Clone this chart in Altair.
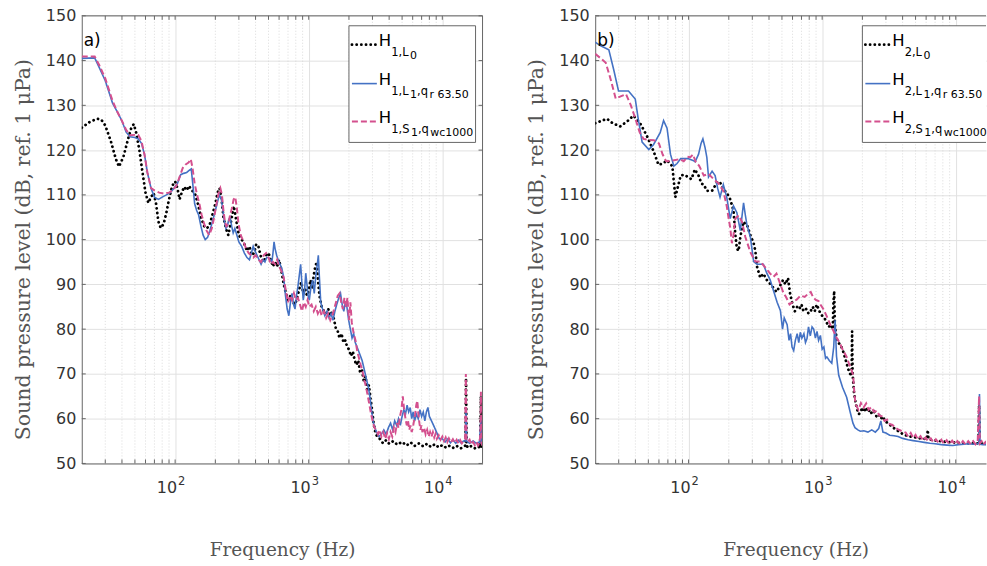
import altair as alt
import pandas as pd

# ---------------- data (frequency Hz, level dB) ----------------
A_L0 = [(20,125),(23,126.3),(26,127),(28,126.8),(30,125.5),(33,122),(36,118),(38,116.3),(41,118.5),(44,122),(47,125),(49,125.8),(51,124),(54,120),(57,115),(60,110.5),(63,108.2),(66,109.5),(69,110.4),(72,108),(75,104),(78,102.6),(82,103.5),(86,106),(90,109),(95,112),(100,113),(104,111.5),(108,109),(112,110.5),(117,111.8),(122,111),(127,112),(133,111),(140,110.5),(148,108),(156,105),(165,103),(173,102.5),(182,103.5),(190,105.5),(200,108),(208,110.5),(215,111.5),(222,109.5),(230,105),(240,102.5),(250,101),(262,104),(275,107.5),(288,104),(300,101),(315,100),(330,99),(345,97.5),(360,98.5),(375,96.5),(390,97),(405,99),(420,98.5),(440,96),(460,95),(480,96.5),(500,97),(520,95.5),(540,94),(560,95),(580,94),(600,95.5),(625,93),(650,90),(675,88),(700,86.5),(730,87.5),(760,86),(790,85.5),(820,87),(850,89),(880,90.5),(910,88),(940,89),(970,87.5),(1000,88.5),(1030,91),(1060,89),(1090,92),(1120,94),(1150,95),(1180,90),(1210,87),(1250,85),(1300,84),(1350,83.5),(1400,84.5),(1450,83),(1500,84),(1550,82),(1600,80),(1650,79.5),(1700,78),(1760,79),(1820,77),(1880,77.5),(1940,76),(2000,75.5),(2070,74),(2140,75),(2210,73),(2280,72),(2350,73),(2420,70.5),(2500,71),(2580,68.5),(2660,69.5),(2740,66.5),(2820,67.5),(2900,64.5),(2980,62),(3060,59),(3150,57),(3250,56),(3400,55.5),(3600,54.5),(3800,55.2),(4000,54.4),(4300,55),(4600,54.2),(5000,54.8),(5400,54),(5800,54.7),(6200,53.9),(6700,54.5),(7200,53.8),(7700,54.4),(8200,53.7),(8800,54.3),(9400,53.6),(10000,54.1),(10700,53.5),(11400,54),(12200,53.4),(13000,53.9),(13800,53.4),(14500,53.8),(14900,54),(15050,69),(15200,54),(15600,53.5),(16500,53.9),(17500,53.4),(18500,53.8),(19200,53.5),(19450,65),(19600,53.6),(20000,53.5)]

A_L1 = [(20,140.5),(25,140.6),(27,138.5),(30,135.5),(34,130.5),(37,128.5),(40,126.5),(43,124),(46,123),(50,122.8),(53,122.5),(56,121.5),(59,119),(62,115),(66,111.5),(70,109.5),(75,109),(80,109.5),(86,110),(92,110.5),(98,111.5),(104,112.5),(110,114.5),(116,114.8),(122,115),(128,115.5),(132,115.8),(136,112),(140,108),(145,106.5),(150,105.5),(156,103),(162,101),(168,100),(175,100.5),(182,102),(190,104),(198,106),(206,108),(214,110),(222,109),(228,106.5),(234,104),(240,102.5),(246,103),(252,104.5),(258,105),(265,103),(272,101.5),(280,102.5),(290,101),(300,99.5),(315,98.5),(330,97),(345,96),(360,95.5),(372,97),(384,98.5),(396,97.5),(410,96.5),(425,95.5),(440,94.5),(455,95.5),(470,95),(485,96),(500,96),(515,95.5),(530,95),(540,97),(550,99.5),(560,98),(575,96.5),(590,95.5),(610,94.5),(630,93.5),(650,91.5),(670,87.5),(690,84.5),(710,83),(730,86),(750,88),(770,85.5),(790,84.5),(810,87.5),(830,89.5),(850,92),(870,94.5),(890,90),(910,86.5),(930,88.5),(950,92.5),(970,90),(990,87.5),(1010,86.5),(1040,89.5),(1070,91),(1100,88),(1130,92),(1160,94.5),(1180,96.5),(1200,92),(1230,86),(1270,84.5),(1320,83),(1370,84),(1420,82.5),(1470,83.5),(1520,82),(1570,84),(1620,85.5),(1680,87),(1730,88),(1780,85.5),(1830,84),(1880,86),(1930,85),(1990,82),(2050,80),(2110,78),(2170,79),(2230,77),(2300,76),(2370,75),(2440,74),(2510,73),(2580,71.5),(2650,70),(2720,68.5),(2800,67),(2880,64.5),(2950,62),(3030,59.5),(3120,58),(3220,57),(3350,56),(3500,56.5),(3650,57.5),(3800,56.5),(3950,58),(4100,59),(4250,57.5),(4400,59.5),(4550,58.5),(4700,60),(4850,58.5),(5000,60.5),(5150,62),(5300,61),(5450,63),(5600,61.5),(5750,62.5),(5900,60),(6050,61.5),(6200,59.5),(6400,61),(6600,60),(6800,62),(7000,60.5),(7200,61.5),(7400,59.5),(7600,61.5),(7800,62.5),(8000,60.5),(8300,59.5),(8600,58.5),(8900,57.5),(9200,56.5),(9500,55.5),(10000,55.5),(10500,54.8),(11000,55.5),(11500,54.6),(12000,55.3),(12600,54.5),(13200,55.2),(13800,54.6),(14400,55),(14900,55),(15050,62),(15200,55),(16000,54.5),(17000,55),(18000,54.5),(19000,54.8),(19450,60),(19600,54.5),(20000,54.5)]

A_S1 = [(20,140.9),(25,140.9),(27,139),(30,136),(34,131),(37,128.5),(40,126.5),(43,124.5),(46,123.3),(50,123.4),(53,123.4),(56,122),(59,119),(62,115),(66,111.5),(70,111),(76,110.5),(82,110.3),(90,110.5),(96,111),(102,112),(108,114),(114,116),(120,116.8),(126,117.2),(131,118),(135,116),(140,112.5),(146,110),(152,108),(158,105.5),(165,103.5),(172,102),(180,101),(188,102.5),(196,105),(204,108),(212,110.5),(218,111.5),(224,110),(230,106.5),(236,104),(242,103),(250,103.5),(258,105.5),(266,107),(274,109),(282,109.5),(290,107),(298,103.5),(310,101),(325,99.5),(340,98),(355,97),(370,96.5),(385,96),(400,96.5),(420,95.5),(440,95),(460,96.5),(480,97),(500,96),(520,94.5),(540,95),(560,94.5),(580,95.5),(600,94),(625,93),(650,91.5),(675,88.5),(700,86),(725,87.5),(750,86.5),(775,88),(800,86.5),(830,87),(860,85.5),(890,84),(920,86),(950,85),(980,86.5),(1010,85),(1050,85.5),(1090,84),(1130,85),(1170,83.5),(1210,84.5),(1250,83),(1300,84),(1350,82.5),(1400,83.5),(1450,82),(1500,83),(1550,84.5),(1600,86),(1650,87.5),(1700,88),(1750,86),(1800,84.5),(1850,87),(1900,85),(1950,87),(2000,82),(2050,86),(2100,81.5),(2170,79),(2240,77.5),(2310,75),(2380,73.5),(2450,72),(2530,70.5),(2610,68.5),(2690,67),(2770,65),(2850,63),(2930,61),(3010,59.5),(3100,58),(3200,57.5),(3300,56.5),(3400,57.5),(3500,56),(3620,57),(3740,55.5),(3860,56.8),(3980,55.5),(4100,57),(4220,56),(4340,58),(4460,57),(4580,59),(4700,58),(4820,60.5),(4940,62),(5060,65),(5180,62),(5300,60),(5420,58.5),(5540,59.5),(5660,57.5),(5780,58.5),(5900,57),(6020,58),(6140,59.5),(6260,61),(6380,63),(6500,64),(6620,61),(6740,59),(6860,57.5),(6980,58.5),(7100,57),(7300,58),(7500,56.5),(7700,57.5),(7900,56),(8100,57),(8300,56),(8500,57),(8700,55.8),(8900,56.6),(9100,55.5),(9400,56.3),(9700,55.3),(10000,56),(10300,55),(10600,55.8),(10900,54.8),(11200,55.6),(11600,54.7),(12000,55.4),(12400,54.6),(12800,55.3),(13200,54.5),(13600,55.2),(14000,54.5),(14400,55),(14800,55.5),(15000,70),(15150,55.5),(15500,54.8),(16000,55.3),(16500,54.2),(17000,54.8),(17500,54.1),(18000,54.8),(18500,54),(19000,54.6),(19300,57),(19450,66),(19600,54.5),(20000,54)]

B_L0 = [(20,126),(24.5,127),(27,126),(30.8,125.3),(35,126.5),(38.7,127.7),(43.4,126),(48.7,123.2),(54.6,119.8),(59.6,116.7),(64,117),(69.2,117.7),(75.6,116.4),(79.6,109.5),(87.3,114.3),(93,114.5),(98.8,114),(105,113.5),(111.6,115.7),(118.8,114.3),(125,112.5),(130,112.3),(137,110.9),(150,110.9),(165,113),(175,112.5),(182,111.2),(193,110.5),(205,109),(217,106.5),(224,101),(230,98),(237,97.5),(244,100.6),(251,102.5),(258,104),(266,103.5),(273,103.4),(290,101),(307,99.2),(316,97.5),(325,94),(344,91.5),(363,92.4),(385,91),(420,89.7),(455,88.3),(480,89.5),(510,91),(530,90),(555,91.4),(575,88),(600,85.5),(625,84),(650,85),(675,84.5),(700,85.5),(725,84),(760,84.5),(790,83.5),(820,84),(850,85),(880,84),(910,85.5),(940,84.5),(970,83.5),(1000,83),(1040,82.5),(1080,81.5),(1120,80.5),(1160,81),(1200,80),(1215,86),(1230,88.5),(1245,81),(1280,78),(1320,77),(1370,76.5),(1420,75.5),(1470,74),(1520,72.5),(1570,71),(1620,70),(1660,69.5),(1675,79.5),(1690,70),(1730,66),(1780,63.5),(1830,62),(1880,61),(1940,61.5),(2000,62.5),(2060,61.5),(2120,62.5),(2200,61.5),(2280,62),(2360,61),(2450,61.5),(2550,60.5),(2650,61),(2750,60),(2850,60.5),(2950,59.5),(3100,59),(3250,58.5),(3400,58),(3600,57.5),(3800,57),(4000,56.6),(4300,56.2),(4600,56),(5000,55.8),(5400,55.6),(5800,55.5),(6100,55.5),(6170,57.5),(6250,55.4),(6800,55.2),(7500,55),(8500,54.8),(9500,54.7),(10500,54.6),(12000,54.5),(13500,54.5),(14800,54.5),(14950,63),(15100,54.5),(16000,54.4),(17300,54.3)]

B_L1 = [(20,144.1),(22,143.3),(25.3,142.4),(27.5,138),(29.9,133.2),(33,133.2),(35.5,133.2),(39.9,131.4),(42,127),(44.9,121.8),(50.4,120.1),(54.6,121.2),(61.3,123.9),(65,126.6),(69,124.9),(73.2,119.1),(77.6,116.4),(82,117),(87.3,118.1),(98.8,118.1),(108,117.7),(112,117.4),(118.8,119.1),(124,121.5),(128,122.5),(133,120.5),(137,118.4),(141,114),(150,115.3),(158,114.3),(165,111.5),(172,109.5),(182,112.3),(193,109.5),(205,104.7),(217,107.5),(230,106),(244,102),(258,108.2),(266,105.5),(273,103.4),(290,100.6),(307,95.1),(325,94.5),(344,94.5),(363,94.5),(385,92.5),(408,91),(433,88.5),(460,86),(487,84.1),(505,80),(520,82.5),(547,81),(565,77.5),(580,79),(595,76),(612,75.2),(630,77.5),(650,79),(668,77),(686,79.3),(705,78),(730,79),(750,77),(770,77.9),(790,80.5),(815,78.5),(840,80.5),(864,80),(890,78),(915,79.5),(940,77.5),(970,78.6),(1000,75.5),(1030,76),(1060,73.5),(1085,73.8),(1130,73),(1180,72.4),(1220,76),(1250,82),(1280,74),(1330,69.7),(1420,67),(1525,64.8),(1620,61.5),(1700,59),(1760,58),(1850,57.5),(1930,57.2),(2050,57.3),(2200,57),(2350,57.5),(2500,57),(2650,57.8),(2750,59.5),(2850,57),(3000,56.8),(3200,56.3),(3450,56.2),(3700,56),(4000,55.6),(4400,55.3),(4800,55.1),(5300,54.9),(5800,54.7),(6400,54.5),(7000,54.4),(7800,54.2),(8600,54.1),(9500,54),(10500,54.2),(11500,54.3),(12500,54.4),(13500,54.3),(14500,54.4),(14900,54.5),(15050,65.5),(15200,54.3),(16000,54.2),(17300,54.2)]

B_S1 = [(20,141.5),(22,140.5),(24,139.5),(26,136),(28.5,131.5),(31,132),(34,132.5),(37,130),(40,127),(43,124),(46,122.5),(50,122.3),(55,122.2),(60,121.5),(64,119),(68,117.5),(74,117.6),(80,117.8),(86,118),(92,117.5),(98,118.5),(103,118.4),(108,119),(113,117.4),(120,116.5),(130,114.3),(141,114.7),(153,113.6),(167,112.6),(182,110.9),(193,107.5),(200,104.5),(205,102.7),(211,99.2),(217,101),(224,104.7),(237,105.4),(251,104),(266,100.6),(290,97.2),(316,95.1),(344,95.1),(375,93.8),(408,92.4),(433,91.7),(455,92.4),(480,90.5),(510,88.3),(540,87),(570,85.5),(600,86),(644,86.6),(690,87.5),(740,87.2),(790,88),(821,88.3),(860,87),(900,86.5),(940,86.3),(970,85.5),(1020,84.5),(1085,82.8),(1150,81),(1220,79.5),(1286,78),(1350,77),(1420,75.5),(1525,73.8),(1600,72),(1660,70.8),(1705,69.7),(1740,66),(1770,63.5),(1805,62.8),(1870,62),(1950,63.5),(2040,62.5),(2135,63.4),(2230,62),(2330,62.6),(2450,61.5),(2570,61.8),(2680,60.7),(2800,60.5),(2930,59.5),(3060,59.8),(3200,58.8),(3360,58.6),(3520,58),(3700,57.6),(3900,57.3),(4220,56.9),(4400,56),(4600,56.8),(4800,55.7),(5000,56.4),(5200,55.4),(5450,56.1),(5700,55.1),(5950,55.8),(6200,54.9),(6500,55.6),(6800,54.7),(7100,55.4),(7450,54.6),(7800,55.3),(8150,54.4),(8550,55.2),(8950,54.3),(9400,55.1),(9850,54.3),(10300,55),(10800,54.2),(11300,55),(11850,54.2),(12400,55),(12950,54.3),(13500,55),(14050,54.3),(14600,55),(14950,65),(15150,54.5),(15600,55),(16100,54.2),(16700,54.8),(17300,54.3)]

MAJOR_X = [100, 1000, 10000]
MAJOR_EXP = ["2", "3", "4"]
MINOR_X = [30, 40, 50, 60, 70, 80, 90, 200, 300, 400, 500, 600, 700, 800, 900,
           2000, 3000, 4000, 5000, 6000, 7000, 8000, 9000]
Y_TICKS = [50, 60, 70, 80, 90, 100, 110, 120, 130, 140, 150]

LEG_A = [["H", "1,L", "0"], ["H", "1,L", "1", ",q", "r 63.50"], ["H", "1,S", "1", ",q", "wc1000"]]
LEG_B = [["H", "2,L", "0"], ["H", "2,L", "1", ",q", "r 63.50"], ["H", "2,S", "1", ",q", "wc1000"]]

# ---------------- styling ----------------
H = 449
BLACK, BLUE, PINK = "#000000", "#4472c4", "#d4508e"
FRAME = "#666666"
LABEL = "#333333"
SANS, SERIF = "DejaVu Sans", "DejaVu Serif"
ONE = pd.DataFrame({"k": [0]})

W_EM = {"H": .752, "S": .635, "L": .557, "q": .635, "r": .411, "w": .818, "c": .550,
        ",": .318, ".": .318, " ": .318}
for d in "0123456789":
    W_EM[d] = .636


def text_w(s, size):
    return sum(W_EM.get(ch, .6) for ch in s) * size


def panel(series, xmax, width, label, legend, full_right):
    xs = alt.Scale(type="log", domain=[20, xmax], nice=False)
    ys = alt.Scale(domain=[50, 150], nice=False, zero=False)
    xax = alt.Axis(values=MAJOR_X, labels=False,
                   grid=True, gridColor="#e1e1e1", ticks=False, domainColor=FRAME,
                   title="Frequency (Hz)", titleFont=SERIF, titleFontSize=18.5,
                   titleFontWeight="normal", titleColor="#555555", titlePadding=77,
                   titleX=201)
    yax = alt.Axis(values=Y_TICKS, grid=True, gridColor="#e1e1e1", ticks=False,
                   domainColor=FRAME, labelFont=SANS, labelFontSize=16, labelColor=LABEL,
                   labelPadding=6, title="Sound pressure level (dB, ref. 1 μPa)",
                   titleFont=SERIF, titleFontSize=20.5, titleFontWeight="normal",
                   titleColor="#555555", titlePadding=12, titleY=234)
    X = alt.X("f:Q", scale=xs, axis=xax)
    Y = alt.Y("v:Q", scale=ys, axis=yax)

    minor = pd.DataFrame({"f": [m for m in MINOR_X if m < xmax]})
    xt = pd.DataFrame({"f": sorted([m for m in MINOR_X + MAJOR_X if m < xmax])})
    yt = pd.DataFrame({"v": Y_TICKS})
    xl = pd.DataFrame({"f": MAJOR_X, "e": MAJOR_EXP})

    layers = [
        alt.Chart(minor).mark_rule(color="#d2d2d2", strokeDash=[1, 2], strokeWidth=0.8).encode(x=X),
        alt.Chart(xt).mark_rule(color=FRAME).encode(x=X, y=alt.value(H), y2=alt.value(H - 4)),
        alt.Chart(xt).mark_rule(color=FRAME).encode(x=X, y=alt.value(0), y2=alt.value(4)),
        alt.Chart(yt).mark_rule(color=FRAME).encode(y=Y, x=alt.value(0), x2=alt.value(4)),
        # x tick labels: "10" with superscript exponent
        alt.Chart(xl).mark_text(text="10", font=SANS, fontSize=16, align="right",
                                baseline="alphabetic", color=LABEL, dx=2)
            .encode(x=X, y=alt.value(H + 30)),
        alt.Chart(xl).mark_text(font=SANS, fontSize=11.5, align="left",
                                baseline="alphabetic", color=LABEL, dx=3)
            .encode(x=X, y=alt.value(H + 22), text="e:N"),
    ]
    if full_right:
        layers.append(alt.Chart(yt).mark_rule(color=FRAME).encode(y=Y, x=alt.value(width), x2=alt.value(width - 4)))

    styles = [(BLACK, [0.1, 4.6], 2.8, "round"), (BLUE, None, 1.6, "butt"), (PINK, [6, 3], 2.0, "butt")]
    for pairs, (col, dash, sw, cap) in zip(series, styles):
        df = pd.DataFrame(pairs, columns=["f", "v"])
        kw = dict(color=col, strokeWidth=sw, strokeCap=cap, clip=True)
        if dash:
            kw["strokeDash"] = dash
        layers.append(alt.Chart(df).mark_line(**kw).encode(x=X, y=Y))

    # frame top / right
    layers.append(alt.Chart(ONE).mark_rule(color=FRAME).encode(x=alt.value(0), x2=alt.value(width), y=alt.value(0)))
    if full_right:
        layers.append(alt.Chart(ONE).mark_rule(color=FRAME).encode(x=alt.value(width), y=alt.value(0), y2=alt.value(H)))

    # legend box
    bx0, by0, by1 = 268, 10, 127
    bx1 = 395 if full_right else width
    layers.append(alt.Chart(ONE).mark_rect(fill="white", stroke=(FRAME if full_right else None), strokeWidth=1)
                  .encode(x=alt.value(bx0), x2=alt.value(bx1), y=alt.value(by0), y2=alt.value(by1)))
    if not full_right:
        for (a, b, c, d) in [(bx0, bx1, by0, by0), (bx0, bx1, by1, by1), (bx0, bx0, by0, by1)]:
            layers.append(alt.Chart(ONE).mark_rule(color=FRAME).encode(
                x=alt.value(a), x2=alt.value(b), y=alt.value(c), y2=alt.value(d)))

    line_y = [29, 68, 106]
    sizes = {0: 16.5, 1: 11.5, 2: 11}
    base = {0: 1.5, 1: 11.5, 2: 14.5}
    for (col, dash, sw, cap), ly, pieces in zip(styles, line_y, legend):
        kw = dict(color=col, strokeWidth=sw, strokeCap=cap)
        if dash:
            kw["strokeDash"] = dash
        layers.append(alt.Chart(ONE).mark_rule(**kw).encode(
            x=alt.value(271), x2=alt.value(296), y=alt.value(ly), y2=alt.value(ly)))
        x = 298
        levels = [0, 1, 2, 1, 2]
        for i, p in enumerate(pieces):
            lv = levels[i]
            if lv == 2:
                x += 1.5
            layers.append(alt.Chart(ONE).mark_text(text=p, font=SANS, fontSize=sizes[lv], align="left",
                                                   baseline="alphabetic", color="black")
                          .encode(x=alt.value(x), y=alt.value(ly + base[lv])))
            x += text_w(p, sizes[lv])

    layers.append(alt.Chart(ONE).mark_text(text=label, font=SANS, fontSize=17, align="left",
                                           baseline="alphabetic", color="black")
                  .encode(x=alt.value(2), y=alt.value(30)))

    return alt.layer(*layers).properties(width=width, height=H)


pa = panel([A_L0, A_L1, A_S1], 20000, 402, "a)", LEG_A, True)
pb = panel([B_L0, B_L1, B_S1], 16840, 392, "b)", LEG_B, False)

chart = alt.hconcat(pa, pb, spacing=113, bounds="flush").properties(
    padding={"left": 13, "top": 7, "right": 0, "bottom": 1},
    background="white",
).configure_view(stroke=None)

chart.save("out.html", embed_options={"renderer": "svg", "actions": False})
